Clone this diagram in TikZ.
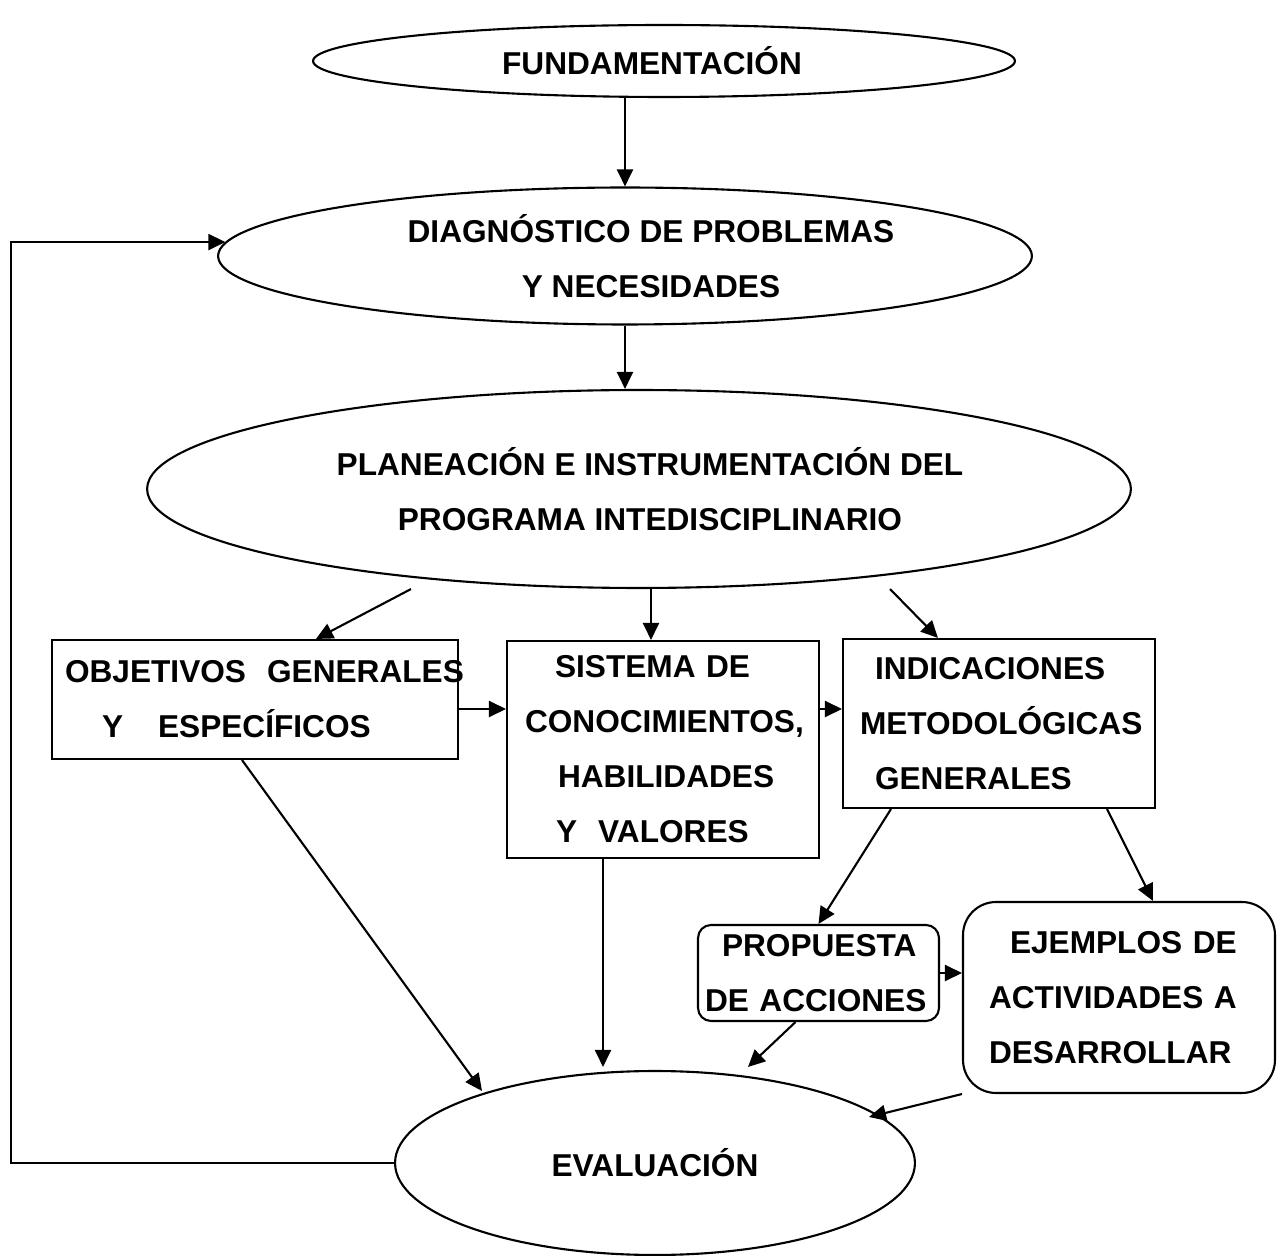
\documentclass[tikz,border=0pt]{standalone}
\usepackage{fontspec}
\setmainfont{Liberation Sans}
\usetikzlibrary{shapes.geometric,arrows.meta,calc}

\begin{document}
\begin{tikzpicture}[x=0.02cm,y=-0.02cm,line width=1.2pt,
    every node/.style={font=\fontsize{18}{31.3}\selectfont\bfseries},
    elip/.style={draw,ellipse,inner sep=0pt,align=center},
    caja/.style={draw,rectangle,inner ysep=0pt,align=left},
    flecha/.style={-{Triangle[length=0.34cm,width=0.32cm]}}]

\useasboundingbox (0,0) rectangle (1279,1256);

\node[elip,minimum width=14.04cm,minimum height=1.44cm] (fund) at (664,61) {FUNDAMENTACIÓN\hspace*{0.48cm}};
\node[elip,minimum width=16.28cm,minimum height=2.74cm] (diag) at (625,256)
    {\hspace*{1.04cm}DIAGNÓSTICO DE PROBLEMAS\\ \hspace*{1.04cm}Y NECESIDADES};
\node[elip,minimum width=19.68cm,minimum height=3.96cm] (plan) at (639,489)
    {\hspace*{0.44cm}PLANEACIÓN E INSTRUMENTACIÓN DEL\\ \hspace*{0.44cm}PROGRAMA INTEDISCIPLINARIO};
\node[elip,minimum width=10.4cm,minimum height=3.68cm] (eval) at (655,1163) {EVALUACIÓN};

% cajas
\node[caja,text width=7.6cm,inner xsep=0.26cm,minimum height=2.38cm] (obj) at (255,699.5)
    {\mbox{OBJETIVOS\ \ GENERALES}\\ \hspace*{0.74cm}Y\hspace{0.7cm}ESPECÍFICOS};
\node[caja,text width=5.52cm,inner xsep=0.36cm,minimum height=4.34cm] (sis) at (663,749.5)
    {\hspace*{0.6cm}SISTEMA DE\\ \mbox{CONOCIMIENTOS,}\\ \hspace*{0.66cm}HABILIDADES\\ \hspace*{0.62cm}Y\ \ VALORES};
\node[caja,text width=5.56cm,inner xsep=0.34cm,minimum height=3.38cm] (ind) at (999,723.5)
    {\hspace*{0.3cm}INDICACIONES\\ \mbox{METODOLÓGICAS}\\ \hspace*{0.3cm}GENERALES};
\node[caja,rounded corners=0.26cm,text width=4.54cm,inner xsep=0.14cm,minimum height=1.92cm] (prop) at (818.5,973)
    {\hspace*{0.34cm}PROPUESTA\\ DE ACCIONES};
\node[caja,rounded corners=0.66cm,text width=5.2cm,inner xsep=0.52cm,minimum height=3.82cm] (ejem) at (1119,997.5)
    {\hspace*{0.42cm}EJEMPLOS DE\\ ACTIVIDADES A\\ DESARROLLAR};

\coordinate (row) at (0,709);

\draw[flecha] (fund.south -| diag.north) -- (diag.north);
\draw[flecha] (diag.south) -- (diag.south |- plan.north);
\draw[flecha] (eval.west) -- ++(-383,0) |- (diag.178);

\draw[flecha] ($(plan.south)+(-228,0)$) -- ($(obj.north)+(61,0)$);
\draw[flecha] ($(plan.south)+(12,0)$) -- ($(sis.north)+(-12,0)$);
\draw[flecha] ($(plan.south)+(251,0)$) -- ($(ind.north)+(-61,0)$);

\draw[flecha] (obj.east |- row) -- (sis.west |- row);
\draw[flecha] (sis.east |- row) -- (ind.west |- row);

\draw[flecha] ($(ind.south)+(-108,0)$) -- (prop.north);
\draw[flecha] ($(ind.south)+(108,0)$) -- ($(ejem.north)+(34,0)$);
\draw[flecha] (prop.east) -- (ejem.west |- prop.east);

% hacia la evaluacion
\draw[flecha] ($(obj.south)+(-13,0)$) -- ($(eval.north)+(-173,21)$);
\draw[flecha] ($(sis.south)+(-60,0)$) -- ($(eval.north)+(-52,-3)$);
\draw[flecha] ($(prop.south)+(-23,0)$) -- ($(eval.north)+(93,-3)$);
\draw[flecha] (ejem.south west) -- ($(eval.east)+(-47,-46)$);

\end{tikzpicture}
\end{document}
